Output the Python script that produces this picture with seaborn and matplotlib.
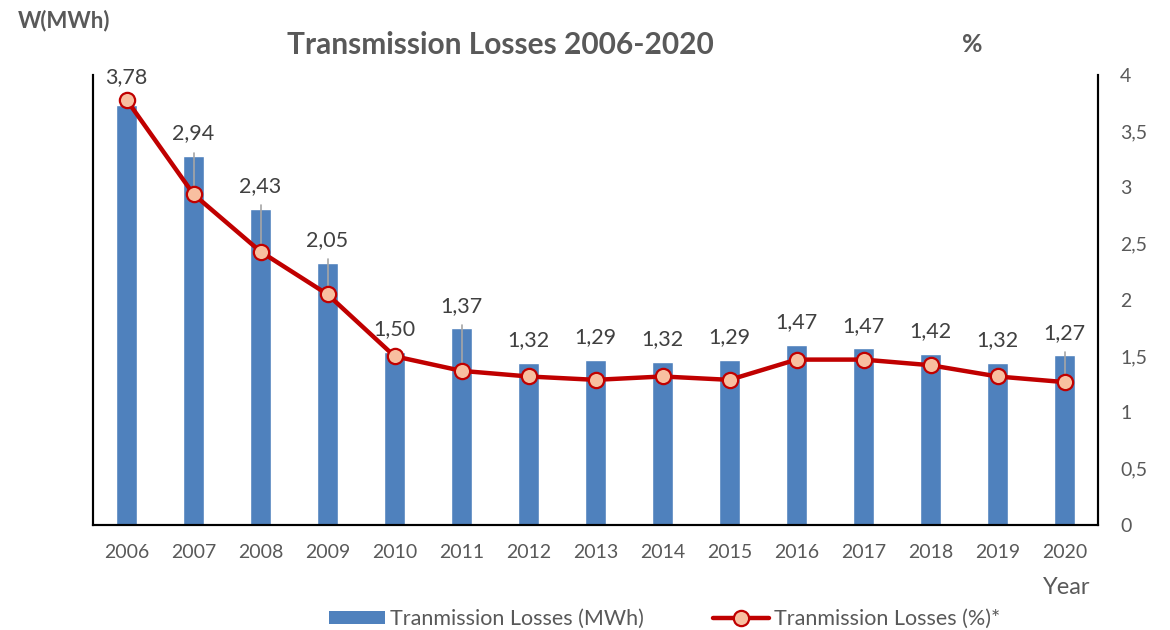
import matplotlib
matplotlib.use('Agg')
import matplotlib.pyplot as plt
from matplotlib.patches import Patch
from matplotlib.lines import Line2D
import seaborn as sns
import pandas as pd

# Data
years = ['2006', '2007', '2008', '2009', '2010', '2011', '2012', '2013',
         '2014', '2015', '2016', '2017', '2018', '2019', '2020']
# left axis has no labels, bar heights are given in the right-axis scale
mwh_bars = [3.73, 3.28, 2.81, 2.33, 1.54, 1.75, 1.44, 1.47,
            1.45, 1.47, 1.60, 1.57, 1.52, 1.44, 1.51]
loss_pct = [3.78, 2.94, 2.43, 2.05, 1.50, 1.37, 1.32, 1.29,
            1.32, 1.29, 1.47, 1.47, 1.42, 1.32, 1.27]
leader_years = ['2007', '2008', '2009', '2011', '2020']
right_ticks = [0, 0.5, 1, 1.5, 2, 2.5, 3, 3.5, 4]

df = pd.DataFrame({'year': years, 'mwh': mwh_bars, 'pct': loss_pct})
df['pos'] = range(len(years))

sns.set_style('white')
plt.rcParams['font.family'] = ['Lato', 'DejaVu Sans']

BLUE = '#4F81BD'
RED = '#C00000'
PEACH = '#F8BFA0'
GREY = '#595959'

fig = plt.figure(figsize=(11.7, 6.3), dpi=100)
ax = fig.add_axes([0.0795, 0.1667, 0.859, 0.7143])

sns.barplot(data=df, x='year', y='mwh', color=BLUE, width=0.3,
            saturation=1, ax=ax, zorder=2)
ax.set_xlim(-0.5, len(years) - 0.5)
ax.set_ylim(0, 4)
ax.set_yticks([])
ax.set_xlabel('')
ax.set_ylabel('')
ax.tick_params(axis='x', length=0, labelsize=14, labelcolor=GREY, pad=14)

ax2 = ax.twinx()
sns.lineplot(data=df, x='pos', y='pct', color=RED, linewidth=3.2,
             marker='o', markersize=11, markerfacecolor=PEACH,
             markeredgecolor=RED, markeredgewidth=1.6, ax=ax2, zorder=4)
ax2.set_ylim(0, 4)
ax2.set_xlim(-0.5, len(years) - 0.5)
ax2.set_yticks(right_ticks)
ax2.set_yticklabels([f'{t:g}'.replace('.', ',') for t in right_ticks])
ax2.tick_params(axis='y', length=0, labelsize=14, labelcolor=GREY, pad=16)
ax2.set_xlabel('')
ax2.set_ylabel('')

for a in (ax, ax2):
    a.spines['top'].set_visible(False)
    for s in ('left', 'right', 'bottom'):
        a.spines[s].set_color('black')
        a.spines[s].set_linewidth(1.5)

# data labels above bars, with leader lines where the label sits away
for i, (y, b, p) in enumerate(zip(years, mwh_bars, loss_pct)):
    top = max(b, p)
    ax2.annotate(f'{p:.2f}'.replace('.', ','), xy=(i, top), xytext=(0, 9),
                 textcoords='offset points', ha='center', va='bottom',
                 fontsize=15.5, color='#404040')
    if y in leader_years:
        ax2.plot([i, i], [b + 0.03, p], color='#A6A6A6', lw=1.2, zorder=3)

fig.text(0.428, 0.929, 'Transmission Losses 2006-2020', ha='center',
         va='center', fontsize=21.5, fontweight='bold', color=GREY)
fig.text(0.015, 0.968, 'W(MWh)', ha='left', va='center', fontsize=16,
         fontweight='bold', color=GREY)
fig.text(0.831, 0.929, '%', ha='center', va='center', fontsize=18,
         fontweight='bold', color=GREY)
fig.text(0.932, 0.068, 'Year', ha='right', va='center', fontsize=17,
         color=GREY)

handles = [Patch(facecolor=BLUE, edgecolor='none'),
           Line2D([0], [0], color=RED, lw=3.2, marker='o', markersize=11,
                  markerfacecolor=PEACH, markeredgecolor=RED,
                  markeredgewidth=1.6)]
fig.legend(handles, ['Tranmission Losses (MWh)', 'Tranmission Losses (%)*'],
           loc='center', bbox_to_anchor=(0.568, 0.018), ncol=2, frameon=False,
           fontsize=15.5, handlelength=2.6, handleheight=0.55,
           columnspacing=3.2, labelcolor=GREY, handletextpad=0.25)

fig.savefig('out.png', dpi=100)
